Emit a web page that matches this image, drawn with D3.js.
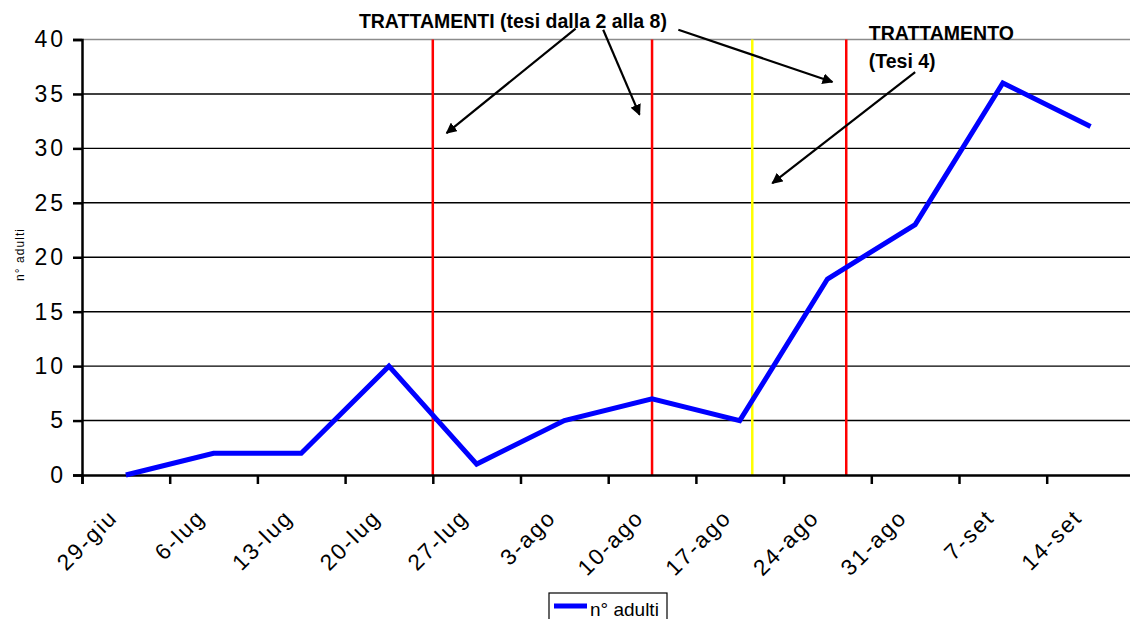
<!DOCTYPE html>
<html>
<head>
<meta charset="utf-8">
<script src="https://cdn.jsdelivr.net/npm/d3@7"></script>
<style>
  body { margin: 0; background: #fff; }
  svg text { font-family: "Liberation Sans", Arial, sans-serif; }
</style>
</head>
<body>
<div id="chart"></div>
<script>
// sampling dates (days after 29-giu) and counts
var dateLabels = ['29-giu', '6-lug', '13-lug', '20-lug', '27-lug', '3-ago',
    '10-ago', '17-ago', '24-ago', '31-ago', '7-set', '14-set'];
var sampleDays = [0, 7, 14, 21, 28, 35, 42, 49, 56, 63, 70, 77];
var adults = [0, 2, 2, 10, 1, 5, 7, 5, 18, 23, 36, 32];
var yTicks = [0, 5, 10, 15, 20, 25, 30, 35, 40];

// treatment dates (days after 29-giu)
var treatmentDays = [24.5, 42, 57.5];
var treatment4Days = [50];

// annotation arrows: [dayFrom, valueFrom, dayTo, valueTo]
var arrows = [
    [35.9, 41.0, 25.6, 31.4],
    [38.1, 40.9, 41.0, 33.1],
    [44.1, 40.9, 56.4, 36.1],
    [63.0, 37.0, 51.6, 26.8]
];
// annotation texts: [day, value, text]
var notes = [
    [18.6, 41.05, 'TRATTAMENTI (tesi dalla 2 alla 8)'],
    [59.3, 40.0, 'TRATTAMENTO'],
    [59.3, 37.35, '(Tesi 4)']
];

var margin = { top: 39.5, right: 0, bottom: 144, left: 82 },
    width = 1130 - margin.left - margin.right,
    height = 619 - margin.top - margin.bottom;

var step = 87.7;
var xScale = d3.scaleLinear()
    .domain([-3.5, 80.5])
    .range([0, 12 * step]);

var yScale = d3.scaleLinear()
    .domain([0, 40])
    .range([height, 0]);

var svg = d3.select("#chart")
    .append("svg")
    .attr("width", 1130)
    .attr("height", 619);

var canvas = svg.append("g")
    .attr("transform", "translate(" + margin.left + "," + margin.top + ")");

// horizontal grid lines
canvas.append("g")
    .selectAll("line")
    .data(yTicks.filter(function (d) { return d > 0; }))
    .enter().append("line")
    .attr("x1", 0)
    .attr("x2", width)
    .attr("y1", function (d) { return yScale(d); })
    .attr("y2", function (d) { return yScale(d); })
    .attr("stroke", function (d) { return d === 40 ? "#8c8c8c" : "#000"; })
    .attr("stroke-width", 1.4);

// treatment lines
canvas.append("g")
    .selectAll("line")
    .data(treatmentDays)
    .enter().append("line")
    .attr("x1", function (d) { return xScale(d); })
    .attr("x2", function (d) { return xScale(d); })
    .attr("y1", 0)
    .attr("y2", height)
    .attr("stroke", "#ff0000")
    .attr("stroke-width", 2.5);

canvas.append("g")
    .selectAll("line")
    .data(treatment4Days)
    .enter().append("line")
    .attr("x1", function (d) { return xScale(d); })
    .attr("x2", function (d) { return xScale(d); })
    .attr("y1", 0)
    .attr("y2", height)
    .attr("stroke", "#ffff00")
    .attr("stroke-width", 2.5);

// y axis
var yAxis = d3.axisLeft(yScale)
    .tickValues(yTicks)
    .tickSize(9)
    .tickPadding(7);

var yG = canvas.append("g").call(yAxis);
yG.select(".domain").attr("stroke-width", 2.5);
yG.selectAll(".tick line").attr("stroke-width", 2.5);
yG.selectAll(".tick text")
    .attr("font-size", "23px")
    .attr("letter-spacing", "3px")
    .attr("font-family", "'Liberation Sans', Arial, sans-serif")
    .attr("fill", "#000");

// x axis: ticks on the boundaries between weeks
var xTickDays = sampleDays.map(function (d) { return d - 3.5; });
var xAxis = d3.axisBottom(xScale)
    .tickValues(xTickDays)
    .tickSize(9)
    .tickFormat("");

var xG = canvas.append("g")
    .attr("transform", "translate(0," + height + ")")
    .call(xAxis);
xG.select(".domain").attr("stroke-width", 2.5);
xG.selectAll(".tick line").attr("stroke-width", 2.5);

// rotated date labels centred on each week
canvas.append("g")
    .selectAll("text")
    .data(sampleDays)
    .enter().append("text")
    .attr("transform", function (d) {
        return "translate(" + (xScale(d) - 7) + "," + (height + 44) + ") rotate(-45)";
    })
    .attr("text-anchor", "end")
    .attr("font-size", "22.5px")
    .attr("letter-spacing", "2px")
    .attr("fill", "#000")
    .text(function (d, i) { return dateLabels[i]; });

// y axis title
svg.append("text")
    .attr("transform", "translate(24,255) rotate(-90)")
    .attr("text-anchor", "middle")
    .attr("font-size", "12px")
    .attr("textLength", 52)
    .text("n° adulti");

// data line
var line = d3.line()
    .x(function (d, i) { return xScale(sampleDays[i]); })
    .y(function (d) { return yScale(d); });

canvas.append("path")
    .datum(adults)
    .attr("d", line)
    .attr("fill", "none")
    .attr("stroke", "#0000ff")
    .attr("stroke-width", 5)
    .attr("stroke-linejoin", "miter");

// arrow head marker
svg.append("defs").append("marker")
    .attr("id", "head")
    .attr("viewBox", "0 0 10 10")
    .attr("refX", 9)
    .attr("refY", 5)
    .attr("markerWidth", 5)
    .attr("markerHeight", 5)
    .attr("markerUnits", "strokeWidth")
    .attr("orient", "auto")
    .append("path")
    .attr("d", "M0,0 L10,5 L0,10 z")
    .attr("fill", "#000");

canvas.append("g")
    .selectAll("line")
    .data(arrows)
    .enter().append("line")
    .attr("x1", function (d) { return xScale(d[0]); })
    .attr("y1", function (d) { return yScale(d[1]); })
    .attr("x2", function (d) { return xScale(d[2]); })
    .attr("y2", function (d) { return yScale(d[3]); })
    .attr("stroke", "#000")
    .attr("stroke-width", 2.2)
    .attr("marker-end", "url(#head)");

canvas.append("g")
    .selectAll("text")
    .data(notes)
    .enter().append("text")
    .attr("x", function (d) { return xScale(d[0]); })
    .attr("y", function (d) { return yScale(d[1]); })
    .attr("font-size", "19.5px")
    .attr("font-weight", "bold")
    .attr("fill", "#000")
    .text(function (d) { return d[2]; });

// legend
var legend = svg.append("g").attr("transform", "translate(549,593)");
legend.append("rect")
    .attr("width", 118)
    .attr("height", 32)
    .attr("fill", "#fff")
    .attr("stroke", "#000")
    .attr("stroke-width", 1.2);
legend.append("line")
    .attr("x1", 5).attr("x2", 38)
    .attr("y1", 13).attr("y2", 13)
    .attr("stroke", "#0000ff")
    .attr("stroke-width", 5);
legend.append("text")
    .attr("x", 41)
    .attr("y", 23)
    .attr("font-size", "19px")
    .text("n° adulti");
</script>
</body>
</html>
